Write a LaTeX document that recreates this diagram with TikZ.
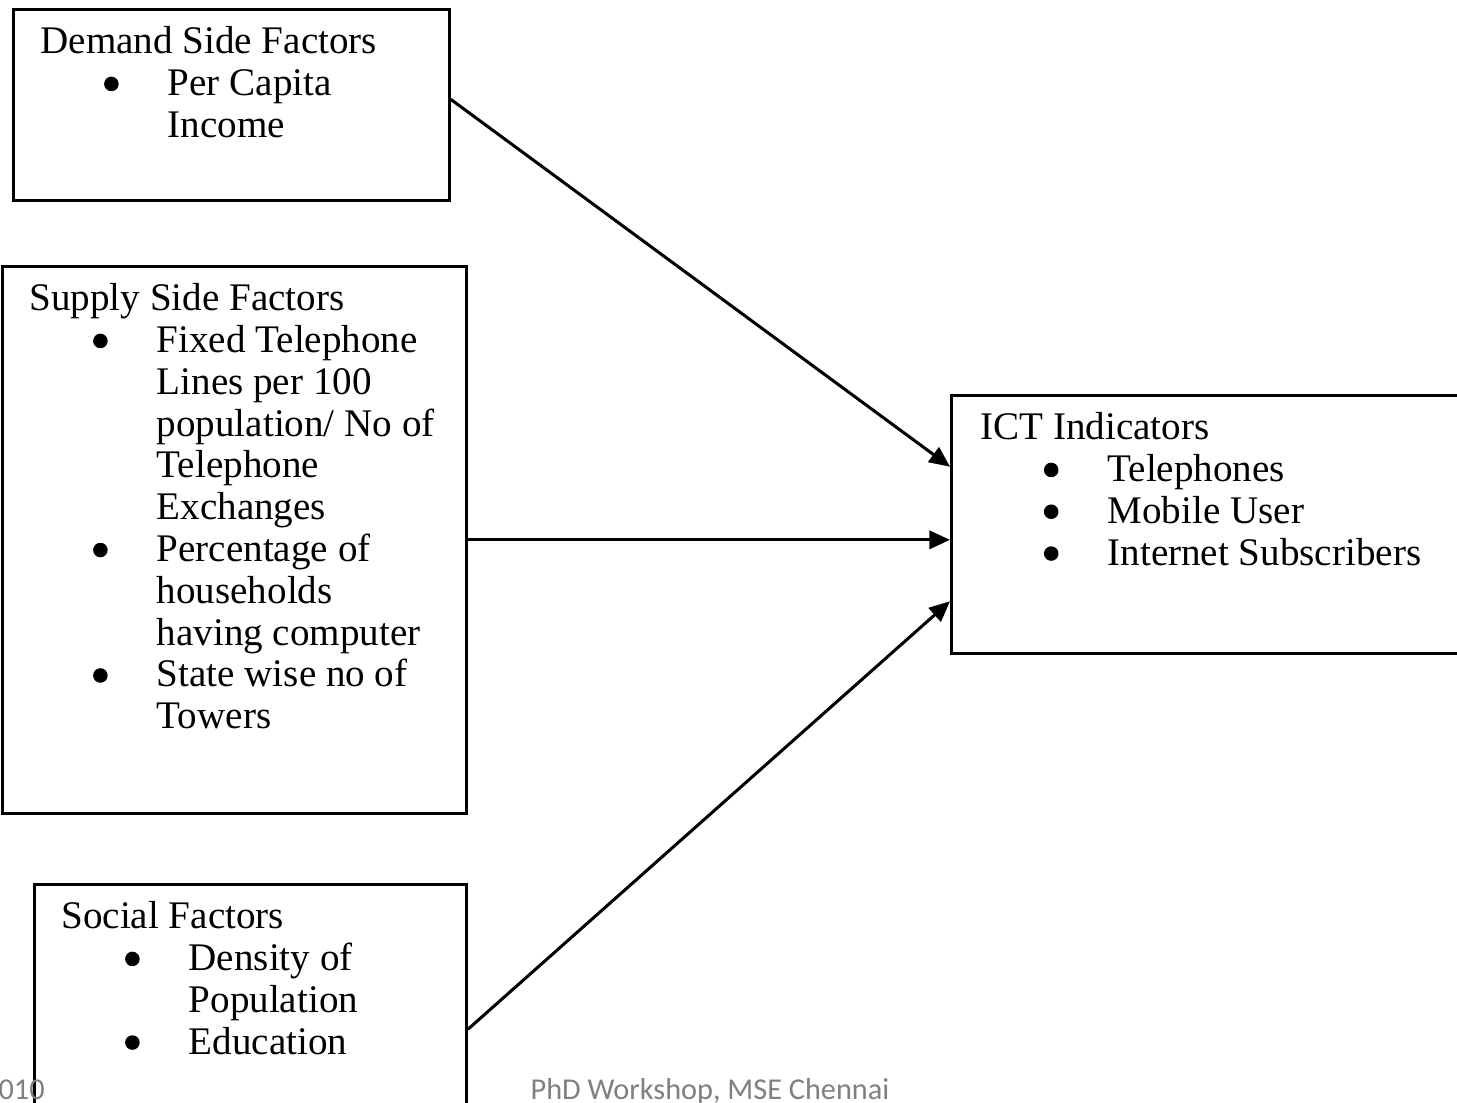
\documentclass[tikz,border=0pt]{standalone}
\usepackage{fontspec}
\setmainfont{Liberation Serif}
\newfontfamily\footfont{Carlito}
\usetikzlibrary{positioning, arrows.meta}

\newcommand{\bul}{\makebox[42pt][l]{\hspace{21pt}\tikz[baseline=-3.8pt]\fill (2.4pt,0) circle (2.4pt);}}
\newcommand{\ind}{\hspace*{42pt}}

\begin{document}
\begin{tikzpicture}[x=0.33pt,y=-0.33pt,font=\fontsize{12.9}{13.8}\selectfont,
  box/.style={draw,line width=0.9pt,inner sep=0,anchor=north west},
  txt/.style={align=left,inner sep=0,below right=5.2pt and 9.2pt of #1},
  arr/.style={line width=1pt,-{Triangle[length=6.8pt,width=6pt]}}]
\useasboundingbox (0,0) rectangle (1457,1103);

% boxes
\node[box,minimum width=143.9pt,minimum height=63pt] (demand) at (12,8) {};
\node[box,minimum width=153.1pt,minimum height=180.5pt] (supply) at (1,265) {};
\node[box,minimum width=142.6pt,minimum height=95.7pt] (social) at (33,883) {};
\node[box,minimum width=171pt,minimum height=85.1pt] (ict) at (950,394) {};

\node[txt=demand.north west] (demandtxt) {\strut Demand Side Factors\\
  \bul Per Capita\\ \ind Income};
\node[txt=supply.north west] (supplytxt) {\strut Supply Side Factors\\
  \bul Fixed Telephone\\ \ind Lines per 100\\ \ind population/ No of\\
  \ind Telephone\\ \ind Exchanges\\
  \bul Percentage of\\ \ind households\\ \ind having computer\\
  \bul State wise no of\\ \ind Towers};
\node[txt=social.north west] (socialtxt) {\strut Social Factors\\
  \bul Density of\\ \ind Population\\ \bul Education};
\node[txt=ict.north west,xshift=0.6pt] (icttxt) {\strut ICT Indicators\\
  \bul Telephones\\ \bul Mobile User\\ \bul Internet Subscribers};

% connectors
\draw[arr] ([yshift=1.8pt]demand.east) -- ([yshift=19pt]ict.west);
\draw[arr] (supply.east) -- (supply.east -| ict.west);
\draw[arr] (social.east) -- ([yshift=-25.4pt]ict.west);

% footer
\begin{scope}[every node/.style={font=\footfont\fontsize{10}{12}\selectfont,text=gray,anchor=base west,inner sep=0}]
\node (year) at (-2,1099) {010};
\node (foot) at (530,1099) {PhD Workshop, MSE Chennai};
\end{scope}

\end{tikzpicture}
\end{document}
